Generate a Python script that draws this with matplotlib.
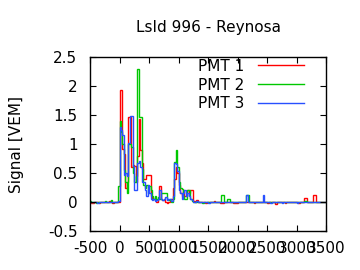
import numpy as np
import matplotlib
matplotlib.use('Agg')
import matplotlib.pyplot as plt

# FADC trace of station 996, 25 ns bins from -500 to 3500 ns
bin_width = 25
t_start, t_stop = -500, 3500

# pre-trigger bins (-500 .. 0)
pmt1_pre = [0.0, -0.02, -0.02, 0.0, 0.01, 0.0, -0.01, 0.0, 0.0, 0.01,
            0.0, 0.0, 0.0, 0.02, 0.0, -0.01, 0.0, 0.0, 0.01, 0.0]
pmt2_pre = [0.02, 0.01, 0.0, 0.0, -0.01, 0.0, 0.01, 0.0, 0.0, 0.0,
            0.02, 0.0, 0.0, 0.0, 0.03, 0.0, 0.0, 0.0, 0.0, 0.28]
pmt3_pre = [0.0, 0.0, 0.01, 0.0, 0.0, -0.01, 0.0, 0.0, 0.0, 0.0,
            0.0, 0.01, 0.0, 0.0, 0.0, 0.0, 0.0, 0.01, 0.0, 0.02]

# signal bins (0 .. 1300)
pmt1_sig = [1.93, 1.93, 0.91, 0.82, 0.25, 0.35, 1.47, 1.47, 0.60, 0.64,
            0.62, 0.35, 0.80, 1.44, 0.90, 0.67, 0.40, 0.40, 0.46, 0.46,
            0.46, 0.10, 0.05, 0.05, 0.05, 0.0, 0.05, 0.28, 0.05, 0.03,
            0.05, 0.0, -0.02, 0.0, 0.03, 0.05, 0.25, 0.40, 0.60, 0.50,
            0.30, 0.15, 0.10, 0.20, 0.10, 0.10, 0.20, 0.15, 0.20, 0.20,
            0.02, 0.0]
pmt2_sig = [1.39, 1.20, 1.00, 0.55, 0.35, 0.15, 1.00, 1.00, 0.95, 0.50,
            0.35, 0.45, 2.29, 1.47, 1.47, 0.57, 0.30, 0.25, 0.30, 0.15,
            0.28, 0.20, 0.10, 0.05, 0.10, 0.05, 0.08, 0.05, 0.15, 0.15,
            0.15, 0.15, 0.05, 0.03, 0.05, 0.0, 0.05, 0.69, 0.89, 0.60,
            0.35, 0.25, 0.23, 0.10, 0.05, 0.05, 0.20, 0.20, 0.05, 0.02,
            0.0, 0.01]
pmt3_sig = [1.30, 1.24, 1.15, 0.46, 0.50, 0.45, 1.02, 1.49, 1.49, 0.62,
            0.20, 0.20, 0.67, 0.70, 0.60, 0.35, 0.35, 0.20, 0.10, 0.30,
            0.15, 0.05, 0.03, 0.05, 0.02, 0.03, 0.05, 0.20, 0.05, 0.03,
            0.05, 0.08, 0.03, 0.05, 0.05, 0.02, 0.10, 0.67, 0.65, 0.53,
            0.20, 0.15, 0.05, 0.15, 0.20, 0.10, 0.15, 0.10, 0.05, 0.03,
            0.0, 0.0]

# tail bins (1300 .. 3500)
pmt1_tail = [0.03, 0.01, 0.0, 0.0, 0.01, 0.0, -0.01, 0.0, 0.0, 0.01, 0.0,
             0.0, 0.02, 0.0, 0.0, 0.0, -0.01, -0.02, -0.02, 0.0, 0.0, 0.01,
             0.0, 0.0, 0.01, -0.02, -0.02, -0.01, 0.0, 0.0, 0.0, 0.01, 0.0,
             0.0, 0.0, 0.0, 0.0, 0.01, 0.0, -0.01, 0.0, 0.0, 0.0, 0.0,
             0.0, 0.01, 0.0, 0.0, -0.01, 0.0, 0.0, 0.0, 0.0, -0.03, -0.03,
             0.0, 0.0, 0.01, 0.0, 0.0, -0.01, 0.0, 0.0, 0.0, 0.0, 0.0,
             0.0, 0.01, 0.0, -0.01, 0.0, 0.0, 0.0, 0.07, 0.07, 0.0, 0.0,
             0.0, 0.0, 0.115, 0.115, 0.0, 0.0, 0.01, 0.0, 0.0, 0.0, 0.0]
pmt2_tail = [0.0, 0.01, 0.0, 0.0, -0.01, 0.0, 0.01, 0.0, 0.0, 0.0, 0.0,
             0.0, 0.0, 0.0, 0.0, 0.01, 0.0, 0.13, 0.13, 0.0, 0.0, 0.05,
             0.05, 0.0, 0.0, 0.0, 0.01, 0.0, 0.0, 0.0, 0.0, 0.0, 0.0,
             0.0, 0.13, 0.13, 0.0, 0.0, 0.01, 0.0, 0.0, 0.0, 0.0, 0.0,
             0.0, 0.0, 0.01, 0.0, 0.0, 0.0, 0.0, 0.0, 0.01, 0.0, 0.0,
             0.0, 0.0, 0.0, 0.0, 0.0, 0.01, 0.0, 0.0, 0.0, 0.0, 0.0,
             0.0, 0.0, 0.0, 0.0, 0.01, 0.0, 0.0, 0.02, 0.02, 0.0, 0.0,
             0.0, 0.0, 0.0, 0.0, 0.0, 0.0, 0.0, 0.0, 0.01, 0.0, 0.0]
pmt3_tail = [0.02, 0.0, 0.0, 0.01, 0.0, 0.0, 0.0, 0.0, -0.01, 0.0, 0.0,
             0.0, 0.0, 0.0, 0.0, 0.0, 0.0, 0.0, 0.0, 0.0, 0.0, 0.0,
             0.0, 0.0, 0.0, 0.0, 0.0, 0.0, 0.0, 0.0, 0.0, 0.0, 0.0,
             0.0, 0.13, 0.0, 0.0, 0.0, 0.0, 0.0, 0.0, 0.0, 0.0, 0.0,
             0.0, 0.13, 0.0, 0.0, 0.0, 0.0, -0.01, 0.0, 0.0, 0.0, 0.0,
             0.0, 0.0, 0.0, -0.01, 0.0, 0.0, 0.0, 0.0, 0.0, 0.0, 0.0,
             0.0, 0.0, -0.01, 0.0, 0.0, 0.0, 0.0, 0.0, 0.0, 0.0, 0.0,
             0.0, 0.0, 0.0, 0.0, 0.0, 0.01, 0.0, 0.0, 0.0, 0.0, 0.0]

labels = ['PMT 1', 'PMT 2', 'PMT 3']
colors = ['#ff0000', '#00c800', '#2850ff']
x_ticks = [-500, 0, 500, 1000, 1500, 2000, 2500, 3000, 3500]
y_ticks = [-0.5, 0, 0.5, 1, 1.5, 2, 2.5]

plt.rcParams['font.family'] = ['DejaVu Sans']
plt.rcParams['axes.unicode_minus'] = False

edges = np.arange(t_start, t_stop + bin_width, bin_width)
traces = [pmt1_pre + pmt1_sig + pmt1_tail,
          pmt2_pre + pmt2_sig + pmt2_tail,
          pmt3_pre + pmt3_sig + pmt3_tail]

fig = plt.figure(figsize=(3.6, 2.7), dpi=100)
ax = fig.add_axes([0.25, 0.144, 0.656, 0.645])

for trace, color, label in zip(traces, colors, labels):
    ax.stairs(trace, edges, baseline=None, color=color, lw=1.0, label=label)

ax.set_xlim(t_start, t_stop)
ax.set_ylim(-0.5, 2.5)
ax.set_xticks(x_ticks)
ax.set_yticks(y_ticks)
ax.set_xticklabels([str(v) for v in x_ticks])
ax.set_yticklabels(['%g' % v for v in y_ticks])
ax.tick_params(direction='in', top=True, right=True, length=4, width=0.8,
               labelsize=11)
ax.tick_params(axis='x', pad=7)
ax.tick_params(axis='y', pad=9)
for spine in ax.spines.values():
    spine.set_linewidth(1.0)

ax.set_title('LsId 996 - Reynosa', fontsize=11, pad=18)
ax.set_ylabel('Signal [VEM]', fontsize=11)
ax.yaxis.set_label_coords(-0.28, 0.5)

ax.legend(loc='upper right', bbox_to_anchor=(0.907, 0.99), frameon=False,
          markerfirst=False, fontsize=11, handlelength=3.0,
          handletextpad=0.9, labelspacing=0.25, borderpad=0,
          borderaxespad=0)

fig.savefig('out.png', dpi=100)
